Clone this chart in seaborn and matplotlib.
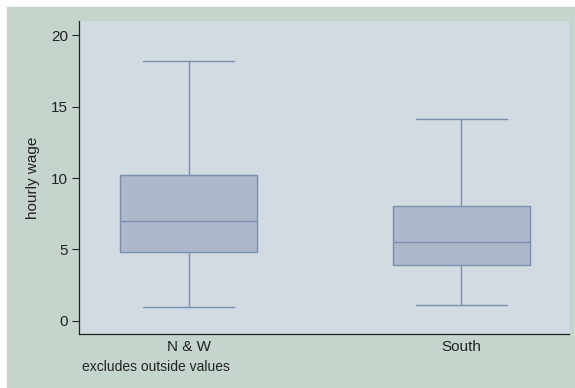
import numpy as np
import pandas as pd
import matplotlib
matplotlib.use("Agg")
import matplotlib.pyplot as plt
from matplotlib.patches import Rectangle
import seaborn as sns

# five-number summaries (min, Q1, median, Q3, max)
regions = ["N & W", "South"]
wage_nw = [1.0, 4.8, 7.0, 10.2, 18.2]
wage_south = [1.15, 3.95, 5.55, 8.05, 14.15]
yticks = [0, 5, 10, 15, 20]

df = pd.DataFrame({
    "region": [regions[0]] * len(wage_nw) + [regions[1]] * len(wage_south),
    "wage": wage_nw + wage_south,
})

sns.set_theme(style="white")
plt.rcParams['font.family'] = ['Liberation Sans', 'DejaVu Sans']

outer = "#c6d5cc"
inner = "#d1dbe1"
boxfill = "#adb9cb"
line = "#7990b3"
txt = "#222222"

fig = plt.figure(figsize=(5.75, 3.88), dpi=100, facecolor="white")
fig.patches.append(Rectangle((7 / 575, 0), 1, (388 - 7) / 388,
                             transform=fig.transFigure, color=outer, zorder=-10))
ax = fig.add_axes([79 / 575, (388 - 334) / 388, (569 - 79) / 575, (334 - 21) / 388])
ax.set_facecolor(inner)

sns.boxplot(data=df, x="region", y="wage", order=regions, ax=ax,
            whis=(0, 100), width=0.503, color=boxfill, saturation=1,
            linecolor=line, linewidth=1.0, showfliers=False)
for l in ax.lines:
    l.set_color(line)
for p in ax.patches:
    p.set_facecolor(boxfill)
    p.set_edgecolor(line)

# widen caps (Stata-style caps ~2/3 of box width)
whisker_ys = set(wage_nw[::4] + wage_south[::4])
for l in ax.lines:
    xd = np.asarray(l.get_xdata(), dtype=float)
    yd = np.asarray(l.get_ydata(), dtype=float)
    if len(xd) == 2 and np.isclose(yd[0], yd[1]) and any(np.isclose(yd[0], w) for w in whisker_ys):
        c = xd.mean()
        half = (xd[1] - xd[0]) / 2
        if abs(half) < 0.2:
            l.set_xdata([c - 0.167, c + 0.167])

ax.set_xlim(-0.402, 1.396)
ax.set_ylim(-0.91, 20.98)
ax.set_yticks(yticks)
ax.set_yticklabels([str(t) for t in yticks], fontsize=11, color=txt)
ax.tick_params(axis="y", left=True, length=5, width=0.8, color=txt, pad=3)
ax.tick_params(axis="x", bottom=False, length=0, labelsize=11, labelcolor=txt, pad=4)
ax.set_xlabel("")
ax.set_ylabel("hourly wage", fontsize=11, color=txt, labelpad=8)
for s in ["top", "right"]:
    ax.spines[s].set_visible(False)
for s in ["left", "bottom"]:
    ax.spines[s].set_color(txt)
    ax.spines[s].set_linewidth(0.9)

fig.text(82 / 575, 1 - 367 / 388, "excludes outside values", fontsize=10,
         color=txt, va="center", ha="left")

fig.savefig("out.png", dpi=100, facecolor="white")
